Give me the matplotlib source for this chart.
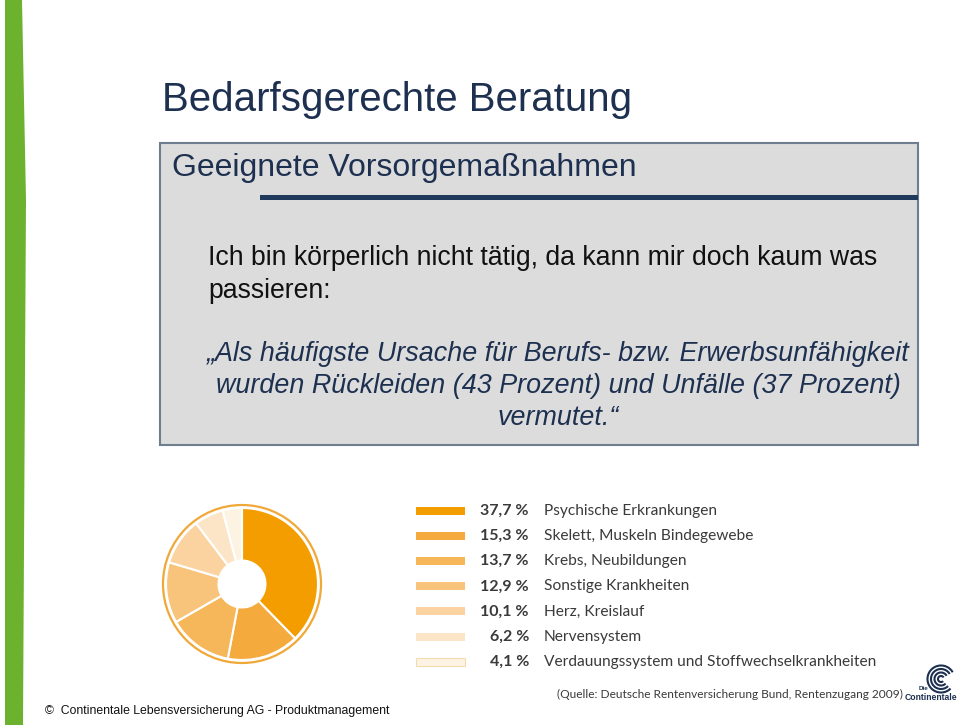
import matplotlib
matplotlib.use("Agg")
import matplotlib.pyplot as plt
from matplotlib.patches import Rectangle, Polygon, Circle, Arc

# ---- data ----
categories = ["Psychische Erkrankungen", "Skelett, Muskeln Bindegewebe",
              "Krebs, Neubildungen", "Sonstige Krankheiten", "Herz, Kreislauf",
              "Nervensystem", "Verdauungssystem und Stoffwechselkrankheiten"]
values = [37.7, 15.3, 13.7, 12.9, 10.1, 6.2, 4.1]
value_labels = ["37,7 %", "15,3 %", "13,7 %", "12,9 %", "10,1 %", "6,2 %", "4,1 %"]
colors = ["#f39d00", "#f4aa3c", "#f6b75a", "#f8c47c", "#fad3a1", "#fce4c6", "#fdf3e2"]

W, H = 960, 728
fig = plt.figure(figsize=(W / 100, H / 100), dpi=100)
fig.patch.set_facecolor("white")

# full-figure overlay axes in pixel coordinates
ax = fig.add_axes([0, 0, 1, 1])
ax.set_xlim(0, W)
ax.set_ylim(H, 0)
ax.axis("off")

navy = "#1d3050"
sans = ["Liberation Sans", "DejaVu Sans"]

# green side bar
ax.add_patch(Polygon([(5, 0), (22, 0), (26, 200), (23, 725), (5, 725)],
                     closed=True, facecolor="#6cb22f", edgecolor="none"))

# title
ax.text(162, 100, "Bedarfsgerechte Beratung", fontsize=29, color=navy,
        family=sans, va="center", ha="left")

# gray box
ax.add_patch(Rectangle((160, 143), 758, 302, facecolor="#dcdcdc",
                       edgecolor="#6f7e8f", linewidth=1.5))
ax.text(172, 168, "Geeignete Vorsorgemaßnahmen", fontsize=23, color=navy,
        family=sans, va="center", ha="left")
ax.add_patch(Rectangle((260, 195), 658, 5, facecolor="#1f3a5c", edgecolor="none"))

ax.text(208, 258, "Ich bin körperlich nicht tätig, da kann mir doch kaum was",
        fontsize=19.2, color="#111111", family=sans, va="center", ha="left")
ax.text(208, 291, "passieren:", fontsize=19.2, color="#111111", family=sans,
        va="center", ha="left")

quote = ["„Als häufigste Ursache für Berufs- bzw. Erwerbsunfähigkeit",
         "wurden Rückleiden (43 Prozent) und Unfälle (37 Prozent)",
         "vermutet.“"]
for i, line in enumerate(quote):
    ax.text(558, 354 + 32 * i, line, fontsize=19.4, color=navy, family=sans,
            style="italic", va="center", ha="center")

# legend
leg_font = ["Lato", "DejaVu Sans"]
for i, (lab, vl, c) in enumerate(zip(categories, value_labels, colors)):
    y = 511 + 25.1 * i
    ax.add_patch(Rectangle((416, y - 4), 49, 8, facecolor=c,
                           edgecolor="#f3dcb0" if i == len(categories) - 1 else "none",
                           linewidth=0.8))
    ax.text(529, y, vl, fontsize=11.5, color="#3a3a3a", family=leg_font,
            fontweight="bold", va="center", ha="right")
    ax.text(544, y, lab, fontsize=11.2, color="#3a3a3a", family=leg_font,
            va="center", ha="left")

# source
ax.text(557, 694, "(Quelle: Deutsche Rentenversicherung Bund, Rentenzugang 2009)",
        fontsize=8.6, color="#3a3a3a", family=leg_font, va="center", ha="left")

# logo
for r in [3, 6.5, 10, 13.5]:
    ax.add_patch(Arc((941, 679), 2 * r, 2 * r, theta1=45, theta2=330,
                     color=navy, linewidth=1.5))
ax.text(919, 689, "Die", fontsize=4.5, color=navy, family=sans,
        fontweight="bold", va="center", ha="left")
ax.text(931, 698, "Continentale", fontsize=6.2, color=navy, family=sans,
        fontweight="bold", va="center", ha="center")

# footer
ax.text(45, 711, "©  Continentale Lebensversicherung AG - Produktmanagement",
        fontsize=8.8, color="#111111", family=sans, va="center", ha="left")

# donut chart
cx, cy, R = 242, 584, 76
half = 100
pax = fig.add_axes([(cx - half) / W, 1 - (cy + half) / H, 2 * half / W, 2 * half / H])
lim = half / R
pax.set_xlim(-lim, lim)
pax.set_ylim(-lim, lim)
pax.set_aspect("equal")
pax.axis("off")
pax.pie(values, colors=colors, startangle=90, counterclock=False, radius=1.0,
        wedgeprops=dict(width=1 - 23.5 / R, edgecolor="white", linewidth=1.5))
pax.set_xlim(-lim, lim)
pax.set_ylim(-lim, lim)
pax.add_patch(Circle((0, 0), 79 / R, facecolor="none", edgecolor="#f0a838",
                     linewidth=1.6))

fig.savefig("out.png", dpi=100)
